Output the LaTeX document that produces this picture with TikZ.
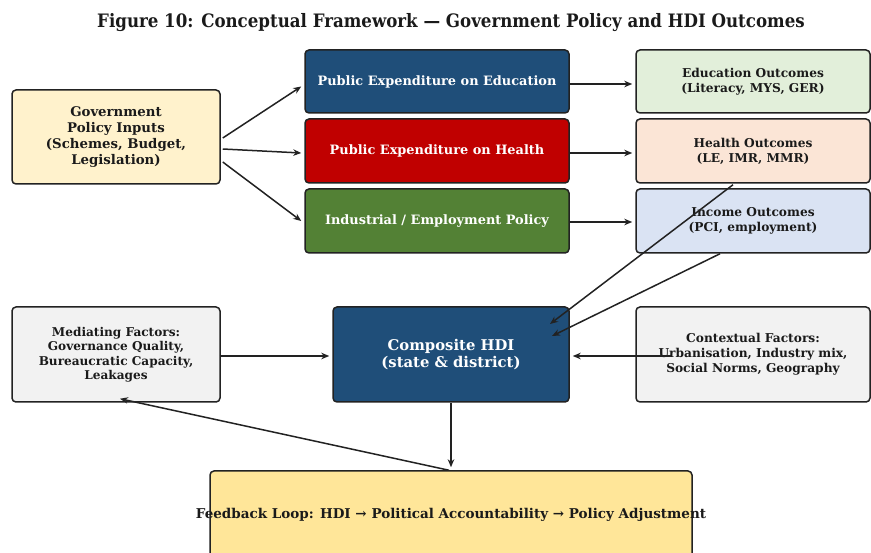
\documentclass[tikz,border=0pt]{standalone}
\usepackage{fontspec}
\setmainfont{DejaVu Serif}
\IfFontExistsTF{DejaVu Serif Condensed}
  {\newfontfamily\titlefont{DejaVu Serif Condensed}}
  {\newfontfamily\titlefont{DejaVu Serif}}
\usetikzlibrary{calc,arrows.meta}
\definecolor{edge}{HTML}{222222}
\definecolor{txt}{HTML}{1A1A1A}
\definecolor{govfill}{HTML}{FFF2CC}
\definecolor{navy}{HTML}{1F4E79}
\definecolor{crimson}{HTML}{C00000}
\definecolor{leaf}{HTML}{538135}
\definecolor{edufill}{HTML}{E2EFDA}
\definecolor{healthfill}{HTML}{FBE5D6}
\definecolor{incomefill}{HTML}{DAE3F3}
\definecolor{greyfill}{HTML}{F2F2F2}
\definecolor{feedfill}{HTML}{FFE699}
\tikzset{
  box/.style={draw=edge, line width=1.5pt, rounded corners=4pt, align=center,
    inner sep=0pt, text=txt, font=\bfseries},
  darkbox/.style={box, text=white},
  link/.style={draw=edge, line width=1.5pt, -{Stealth[length=8pt,width=6.5pt]}},
}
\begin{document}
\begin{tikzpicture}[x=1pt,y=-1pt]
\useasboundingbox (0,0) rectangle (871,553);

% title
\node[font=\titlefont\bfseries\fontsize{18.5}{20}\selectfont, text=txt] (title) at (451,22.5)
  {Figure 10: Conceptual Framework — Government Policy and HDI Outcomes};

% policy inputs
\node[box, fill=govfill, minimum width=208pt, minimum height=94pt,
  font=\bfseries\fontsize{13.3}{16}\selectfont] (gov) at (116,137)
  {Government\\Policy Inputs\\(Schemes, Budget,\\Legislation)};

% expenditure channels
\node[darkbox, fill=navy, minimum width=264pt, minimum height=63pt,
  font=\bfseries\fontsize{12.9}{15}\selectfont] (eduexp) at (437,81.5)
  {Public Expenditure on Education};
\node[darkbox, fill=crimson, minimum width=264pt, minimum height=64pt,
  font=\bfseries\fontsize{12.9}{15}\selectfont] (healthexp) at (437,151)
  {Public Expenditure on Health};
\node[darkbox, fill=leaf, minimum width=264pt, minimum height=64pt,
  font=\bfseries\fontsize{12.9}{15}\selectfont] (indexp) at (437,221)
  {Industrial / Employment Policy};

% outcomes
\node[box, fill=edufill, minimum width=234pt, minimum height=63pt,
  font=\bfseries\fontsize{12.2}{15}\selectfont] (eduout) at (753,81.5)
  {Education Outcomes\\(Literacy, MYS, GER)};
\node[box, fill=healthfill, minimum width=234pt, minimum height=64pt,
  font=\bfseries\fontsize{12.2}{15}\selectfont] (healthout) at (753,151)
  {Health Outcomes\\(LE, IMR, MMR)};
\node[box, fill=incomefill, minimum width=234pt, minimum height=64pt,
  font=\bfseries\fontsize{12.2}{15}\selectfont] (incomeout) at (753,221)
  {Income Outcomes\\(PCI, employment)};

% middle row
\node[box, fill=greyfill, minimum width=208pt, minimum height=95pt,
  font=\bfseries\fontsize{12.1}{14.5}\selectfont] (med) at (116,354.5)
  {Mediating Factors:\\Governance Quality,\\Bureaucratic Capacity,\\Leakages};
\node[darkbox, fill=navy, minimum width=236pt, minimum height=95pt,
  font=\bfseries\fontsize{14.8}{17.5}\selectfont] (hdi) at (451,354.5)
  {Composite HDI\\(state \& district)};
\node[box, fill=greyfill, minimum width=234pt, minimum height=95pt,
  font=\bfseries\fontsize{12.2}{15}\selectfont] (context) at (753,354.5)
  {Contextual Factors:\\Urbanisation, Industry mix,\\Social Norms, Geography};

% feedback
\node[box, fill=feedfill, minimum width=482pt, minimum height=89pt] (feed) at (451,515.5) {};
\node[font=\bfseries\fontsize{13.5}{15}\selectfont, text=txt] (feedtext) at (451,515)
  {Feedback Loop: HDI → Political Accountability → Policy Adjustment};

% policy inputs to channels
\draw[link] ($(gov.east)+(2,1)$) -- ($(eduexp.west)+(-3,5)$);
\draw[link] ($(gov.east)+(2,12)$) -- ($(healthexp.west)+(-3,2)$);
\draw[link] ($(gov.east)+(2,25)$) -- ($(indexp.west)+(-3,0)$);

% channels to outcomes
\draw[link] ($(eduexp.east)+(0,2.5)$) -- ($(eduout.west)+(-3,2.5)$);
\draw[link] ($(healthexp.east)+(0,2)$) -- ($(healthout.west)+(-3,2)$);
\draw[link] ($(indexp.east)+(0,1)$) -- ($(incomeout.west)+(-3,1)$);

% outcomes to composite HDI
\draw[link] ($(healthout.south)+(-20,1)$) -- ($(hdi.center)+(99,-30.5)$);
\draw[link] ($(incomeout.south)+(-33,0)$) -- ($(hdi.center)+(101,-18.5)$);

% side factors into HDI
\draw[link] ($(med.east)+(-1,1.5)$) -- ($(hdi.west)+(-3,1.5)$);
\draw[link] ($(context.center)+(-82,1.5)$) -- ($(hdi.east)+(3,1.5)$);

% HDI to feedback, feedback back to mediation
\draw[link] (hdi.south) -- ($(feed.north)+(0,-3)$);
\draw[link] ($(feed.north)+(-2,0)$) -- ($(med.south)+(4,-4)$);
\end{tikzpicture}
\end{document}
